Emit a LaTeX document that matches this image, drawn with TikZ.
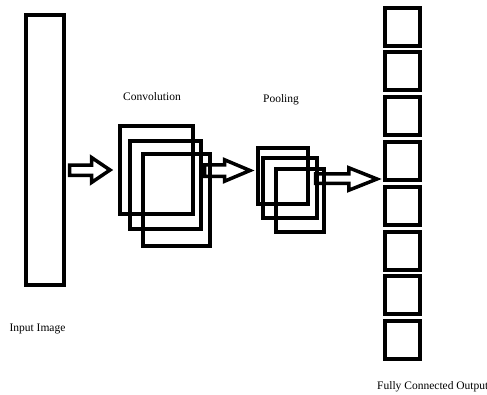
\documentclass[tikz,border=0pt]{standalone}
\usepackage{fontspec}
\setmainfont{Liberation Serif}
\begin{document}
\begin{tikzpicture}[x=1pt,y=-1pt,
  box/.style={draw=black, line width=4pt, inner sep=0pt, outer sep=0pt},
  blockarrow/.style={draw=black, line width=3.5pt, line join=miter},
  lbl/.style={font=\fontsize{11.5pt}{13pt}\selectfont, inner sep=0pt}]
\useasboundingbox (0,0) rectangle (487,394);
% input
\node[box, minimum width=38pt, minimum height=270pt] (input) at (45,150) {};
% convolution
\node[box, minimum width=73pt, minimum height=88pt] (c1) at (156.5,170) {};
\node[box, minimum width=71pt, minimum height=88pt] (c2) at (165.5,185) {};
\node[box, minimum width=67pt, minimum height=92pt] (c3) at (176.5,200) {};
% pooling
\node[box, minimum width=50pt, minimum height=56pt] (p1) at (283,176) {};
\node[box, minimum width=54pt, minimum height=60pt] (p2) at (290,188) {};
\node[box, minimum width=48pt, minimum height=63pt] (p3) at (300,200.5) {};
% fully connected
\foreach \i in {0,...,7}{
  \node[box, minimum width=35pt, minimum height=38pt] (fc\i) at (402.5,{26.5+44.8*\i}) {};
}
% block arrows
\draw[blockarrow] (69.5,165) -- (91.5,165) -- (91.5,157.5) -- (110,170)
  -- (91.5,182.5) -- (91.5,175.25) -- (69.5,175.25) -- cycle;
\draw[blockarrow] (204.5,164.75) -- (224.5,164.75) -- (224.5,159.75) -- (250,170.5)
  -- (224.5,181.25) -- (224.5,176.25) -- (204.5,176.25) -- cycle;
\draw[blockarrow] (315.5,173.75) -- (348.75,173.75) -- (348.75,167.75) -- (377,179)
  -- (348.75,190.25) -- (348.75,183.25) -- (315.5,183.25) -- cycle;
% labels
\node[lbl] (tconv) at (152,97) {Convolution};
\node[lbl] (tpool) at (281,100) {Pooling};
\node[lbl] (tin) at (37.5,329) {Input Image};
\node[lbl, anchor=west] (tfc) at (377,387) {Fully Connected Output};
\end{tikzpicture}
\end{document}
